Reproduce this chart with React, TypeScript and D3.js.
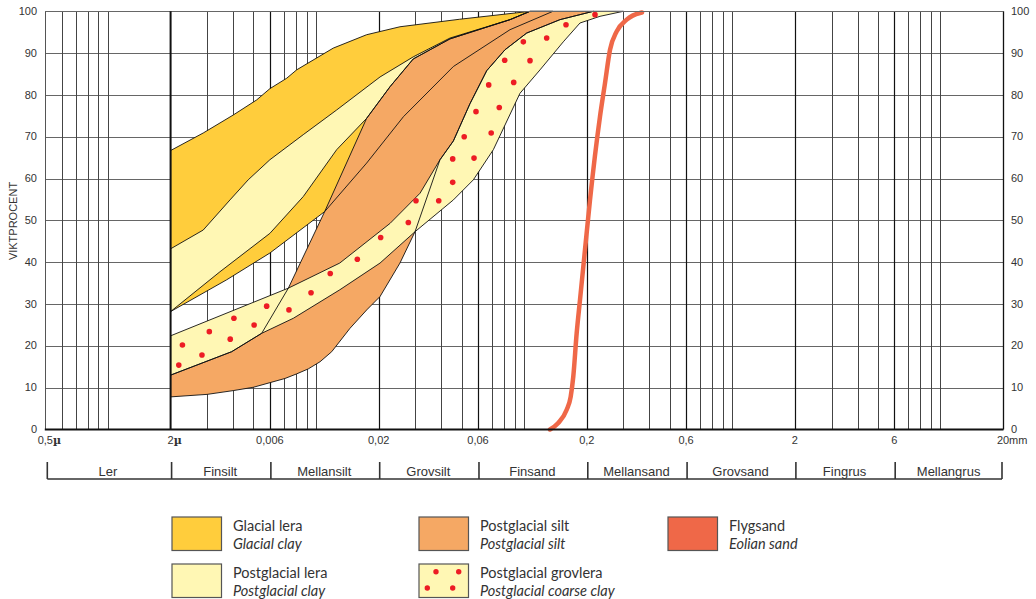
import React from 'react';
import * as d3 from 'd3';

const W = 1036;
const H = 599;

// ---------- DATA (grain size in mm, cumulative weight %) ----------
const yTickValues = [0, 10, 20, 30, 40, 50, 60, 70, 80, 90, 100];
const xTickValues = [0.0005, 0.002, 0.006, 0.02, 0.06, 0.2, 0.6, 2, 6, 20];
const xTickNumbers = ['0,5', '2', '0,006', '0,02', '0,06', '0,2', '0,6', '2', '6', '20'];
const xTickUnits = ['µ', 'µ', '', '', '', '', '', '', '', 'mm'];
const minorGrid = [
  0.0006, 0.0007, 0.0008, 0.0009, 0.001,
  0.003, 0.004, 0.005, 0.007, 0.008, 0.009, 0.01,
  0.03, 0.04, 0.05, 0.07, 0.08, 0.09, 0.1,
  0.3, 0.4, 0.5, 0.7, 0.8, 0.9, 1,
  3, 4, 5, 7, 8, 9, 10,
];
const majorGrid = [0.006, 0.02, 0.06, 0.2, 0.6, 2, 6];

const fractionNames = ['Ler', 'Finsilt', 'Mellansilt', 'Grovsilt', 'Finsand', 'Mellansand', 'Grovsand', 'Fingrus', 'Mellangrus'];
const fractionBounds = [0.0005, 0.002, 0.006, 0.02, 0.06, 0.2, 0.6, 2, 6, 20];

// Glacial clay
const glacialUpper: [number, number][] = [
  [0.002, 66.7], [0.00287, 70.9], [0.004, 75.2], [0.00518, 78.8], [0.006, 81.5], [0.00723, 84.0],
  [0.00807, 86.0], [0.0121, 91.2], [0.0175, 94.4], [0.0253, 96.3], [0.049, 98.1], [0.107, 100],
];
const glacialLower: [number, number][] = [
  [0.002, 28.2], [0.00372, 35.8], [0.006, 42.2], [0.011, 52.1], [0.0175, 63.7], [0.0263, 74.8],
  [0.0457, 86.8], [0.0855, 95.6], [0.1376, 100],
];
// Postglacial clay
const pgClayUpper: [number, number][] = [
  [0.002, 43.2], [0.00287, 47.7], [0.00386, 54.9], [0.00472, 59.7], [0.006, 64.5], [0.00868, 70.5],
  [0.01256, 76.4], [0.0203, 84.3], [0.0293, 89.1], [0.044, 93.6], [0.0855, 98.0], [0.1067, 100],
];
const pgClayLowerStart: [number, number][] = [
  [0.002, 28.2], [0.00345, 37.7], [0.006, 46.9], [0.00868, 55.7], [0.01256, 66.9],
];
// Postglacial silt: upper-left edge (beyond the coarse clay), lower-right edge
const siltUpperLeft: [number, number][] = [
  [0.00736, 33.8], [0.011, 52.1], [0.0175, 74.4], [0.0227, 82.0], [0.0293, 88.6],
  [0.044, 93.4], [0.0855, 98.0], [0.1067, 100],
];
const siltLower: [number, number][] = [
  [0.002, 7.8], [0.003, 8.4], [0.004, 9.3], [0.005, 10.1], [0.006, 11.2], [0.00709, 12.2],
  [0.00807, 13.3], [0.00918, 14.5], [0.01045, 16.2], [0.01189, 18.6], [0.01456, 24.2],
  [0.01752, 28.6], [0.0203, 31.8], [0.0253, 39.8], [0.0299, 47.3], [0.0394, 64.5],
  [0.0457, 69.0], [0.0549, 77.9], [0.0661, 85.8], [0.0809, 90.8], [0.1029, 94.8],
  [0.1486, 98.0], [0.215, 100],
];
// Postglacial coarse clay
const coarseUpperStart: [number, number][] = [
  [0.002, 22.4], [0.00736, 33.8], [0.013, 39.8], [0.0227, 49.3], [0.0316, 56.5],
];
const coarseLower: [number, number][] = [
  [0.002, 13.0], [0.00393, 18.6], [0.00548, 23.0], [0.00778, 26.6], [0.013, 33.4], [0.0203, 39.8],
  [0.0299, 47.3], [0.0457, 54.9], [0.057, 59.7], [0.0711, 66.9], [0.0955, 80.4], [0.1192, 86.0],
  [0.1542, 92.7], [0.1855, 97.2], [0.2314, 98.8], [0.2995, 100],
];
const coarseDots: [number, number][] = [
  [0.00228, 20.2], [0.00219, 15.4], [0.00307, 23.4], [0.00283, 17.8], [0.00403, 26.6], [0.00387, 21.6],
  [0.00504, 25.0], [0.00579, 29.5], [0.00741, 28.6], [0.00946, 32.7], [0.0117, 37.3], [0.01579, 40.7],
  [0.02044, 45.9], [0.02776, 49.5], [0.03022, 54.7], [0.03886, 54.7], [0.04536, 59.1], [0.04536, 64.7],
  [0.05742, 64.9], [0.05152, 70.0], [0.06944, 70.9], [0.0587, 76.0], [0.07594, 77.0], [0.06756, 82.4],
  [0.08908, 83.0], [0.08064, 88.3], [0.1067, 88.2], [0.0991, 92.7], [0.1283, 93.6], [0.1589, 96.8],
  [0.219, 99.2],
];
// Eolian sand
const eolian: [number, number][] = [
  [0.1331, 0], [0.1454, 1.5], [0.1601, 4.7], [0.1673, 7.8], [0.1722, 12.6], [0.1788, 23.0],
  [0.1855, 31.0], [0.196, 42.9], [0.2072, 54.9], [0.2314, 74.8], [0.2446, 82.8], [0.2586, 90.8],
  [0.2785, 95.2], [0.311, 98.0], [0.3604, 99.6], [0.3684, 99.7],
];

const legendNamesSv = ['Glacial lera', 'Postglacial lera', 'Postglacial silt', 'Postglacial grovlera', 'Flygsand'];
const legendNamesEn = ['Glacial clay', 'Postglacial clay', 'Postglacial silt', 'Postglacial coarse clay', 'Eolian sand'];

// ---------- STYLE ----------
const C_GLACIAL = '#FFCD3C';
const C_PGCLAY = '#FFF7B4';
const C_SILT = '#F5A864';
const C_EOLIAN = '#EF6848';
const C_DOT = '#ED1C24';
const AXIS_FONT = '"Liberation Sans", Arial, Helvetica, sans-serif';
const LEG_FONT = 'Lato, "Open Sans", sans-serif';

export default function App() {
  const x = d3.scaleLog().domain([0.0005, 20]).range([45.3, 1003]);
  const y = d3.scaleLinear().domain([0, 100]).range([429.5, 11.3]);
  const cx = (v: number) => Math.round(x(v)) + 0.5;
  const cy = (v: number) => Math.round(y(v)) + 0.5;
  const line = d3.line<[number, number]>().x(d => x(d[0])).y(d => y(d[1]));
  const poly = (pts: [number, number][]) => (line(pts) || '') + 'Z';

  const siltUpper: [number, number][] = [...coarseLower.slice(0, 3), ...siltUpperLeft];
  const pgClayLower: [number, number][] = [...pgClayLowerStart, ...siltUpperLeft.slice(2)];
  const coarseUpper: [number, number][] = [...coarseUpperStart, ...siltLower.slice(15)];

  const glacialPath = poly([...glacialUpper, ...[...glacialLower].reverse()]);
  const pgClayPath = poly([...pgClayUpper, ...[...pgClayLower].reverse()]);
  const siltPath = poly([...siltUpper, ...[...siltLower].reverse()]);
  const coarsePath = poly([...coarseUpper, ...[...coarseLower].reverse()]);

  const eolianLine = d3.line<[number, number]>().x(d => x(d[0])).y(d => y(d[1])).curve(d3.curveMonotoneX)(eolian) || '';

  const numHalf = (s: string) => {
    const w = s.split('').reduce((a, c) => a + (c === ',' ? 0.278 : 0.556), 0) * 11;
    return w / 2;
  };

  const bandY = 479;
  const legCols = [172, 419, 668];
  const legRows = [517, 564];
  const legItems = [
    { col: 0, row: 0, fill: C_GLACIAL, dots: false },
    { col: 0, row: 1, fill: C_PGCLAY, dots: false },
    { col: 1, row: 0, fill: C_SILT, dots: false },
    { col: 1, row: 1, fill: C_PGCLAY, dots: true },
    { col: 2, row: 0, fill: C_EOLIAN, dots: false },
  ];

  return (
    <svg width={W} height={H} style={{ position: 'absolute', left: 0, top: 0, background: '#fff' }}>
      {/* grid */}
      <g>
        {yTickValues.slice(1).map(v => (
          <line key={'h' + v} x1={x(0.0005)} x2={x(20)} y1={cy(v)} y2={cy(v)} stroke="#666" strokeWidth={1} />
        ))}
        {minorGrid.map(v => (
          <line key={'m' + v} x1={cx(v)} x2={cx(v)} y1={y(0)} y2={y(100)} stroke="#444" strokeWidth={1} />
        ))}
        {majorGrid.map(v => (
          <line key={'M' + v} x1={cx(v)} x2={cx(v)} y1={y(0)} y2={y(100)} stroke="#111" strokeWidth={1.2} />
        ))}
        <line x1={cx(0.0005)} x2={cx(0.0005)} y1={y(0)} y2={y(100)} stroke="#555" strokeWidth={1} />
        <line x1={cx(20)} x2={cx(20)} y1={y(0)} y2={y(100)} stroke="#111" strokeWidth={1.3} />
      </g>

      {/* fills */}
      <path d={glacialPath} fill={C_GLACIAL} />
      <path d={pgClayPath} fill={C_PGCLAY} />
      <path d={siltPath} fill={C_SILT} />
      <path d={coarsePath} fill={C_PGCLAY} />
      {/* outlines */}
      {[glacialPath, pgClayPath, siltPath, coarsePath].map((p, i) => (
        <path key={'o' + i} d={p} fill="none" stroke="#111" strokeWidth={0.9} strokeLinejoin="round" />
      ))}
      {coarseDots.map((d, i) => (
        <circle key={'d' + i} cx={x(d[0])} cy={y(d[1])} r={2.8} fill={C_DOT} />
      ))}
      <path d={eolianLine} fill="none" stroke={C_EOLIAN} strokeWidth={4.5} strokeLinecap="round" />

      {/* frame */}
      <line x1={x(0.0005)} x2={x(20)} y1={cy(100)} y2={cy(100)} stroke="#666" strokeWidth={1} />
      <line x1={x(0.002)} x2={x(0.002)} y1={y(0)} y2={y(100)} stroke="#111" strokeWidth={2} />
      <line x1={x(0.0005) - 0.5} x2={x(20) + 0.5} y1={y(0)} y2={y(0)} stroke="#111" strokeWidth={2} />

      {/* y tick labels */}
      {yTickValues.map(v => (
        <g key={'yl' + v} fontFamily={AXIS_FONT} fontSize={11} fill="#333">
          <text x={37} y={y(v)} dy="0.33em" textAnchor="end">{v}</text>
          <text x={1011} y={y(v)} dy="0.33em" textAnchor="start">{v}</text>
        </g>
      ))}
      <text transform={`translate(16.5,221) rotate(-90)`} textAnchor="middle" fontFamily={AXIS_FONT} fontSize={11} fill="#333">VIKTPROCENT</text>

      {/* x tick labels */}
      {xTickValues.map((v, i) => (
        <g key={'xl' + v} fontFamily={AXIS_FONT} fontSize={11} fill="#333">
          <text x={x(v)} y={443.5} textAnchor="middle">{xTickNumbers[i]}</text>
          {xTickUnits[i] && (
            <text x={x(v) + numHalf(xTickNumbers[i])} y={443.5} textAnchor="start" fontWeight={xTickUnits[i] === 'µ' ? 'bold' : 'normal'}
              fontFamily={xTickUnits[i] === 'µ' ? '"DejaVu Serif", serif' : AXIS_FONT}>{xTickUnits[i]}</text>
          )}
        </g>
      ))}

      {/* fraction band */}
      <line x1={x(0.0005) + 2} x2={x(20) - 1} y1={bandY} y2={bandY} stroke="#333" strokeWidth={1.6} />
      {fractionBounds.map((b, i) => (
        <line key={'fb' + i} x1={x(b) + (i === 0 ? 2 : i === fractionBounds.length - 1 ? -1 : 1)} x2={x(b) + (i === 0 ? 2 : i === fractionBounds.length - 1 ? -1 : 1)} y1={462} y2={bandY} stroke="#333" strokeWidth={1.6} />
      ))}
      {fractionNames.map((n, i) => (
        <text key={'fn' + n} x={(x(fractionBounds[i]) + x(fractionBounds[i + 1])) / 2} y={475.5} textAnchor="middle"
          fontFamily={AXIS_FONT} fontSize={13} fill="#333">{n}</text>
      ))}

      {/* legend */}
      {legItems.map((it, i) => {
        const lx = legCols[it.col];
        const ly = legRows[it.row];
        return (
          <g key={'lg' + i}>
            <rect x={lx} y={ly} width={49.5} height={33.5} fill={it.fill} stroke="#555" strokeWidth={1.2} />
            {it.dots && [[17, 7.7], [39.7, 7.7], [8.3, 24], [33.7, 24]].map((p, j) => (
              <circle key={j} cx={lx + p[0]} cy={ly + p[1]} r={2.7} fill={C_DOT} />
            ))}
            <text x={lx + 61} y={ly + 13.7} fontFamily={LEG_FONT} fontSize={14.5} fill="#333">{legendNamesSv[i]}</text>
            <text x={lx + 61} y={ly + 32} fontFamily={LEG_FONT} fontSize={14.5} fontStyle="italic" fill="#333">{legendNamesEn[i]}</text>
          </g>
        );
      })}
    </svg>
  );
}
